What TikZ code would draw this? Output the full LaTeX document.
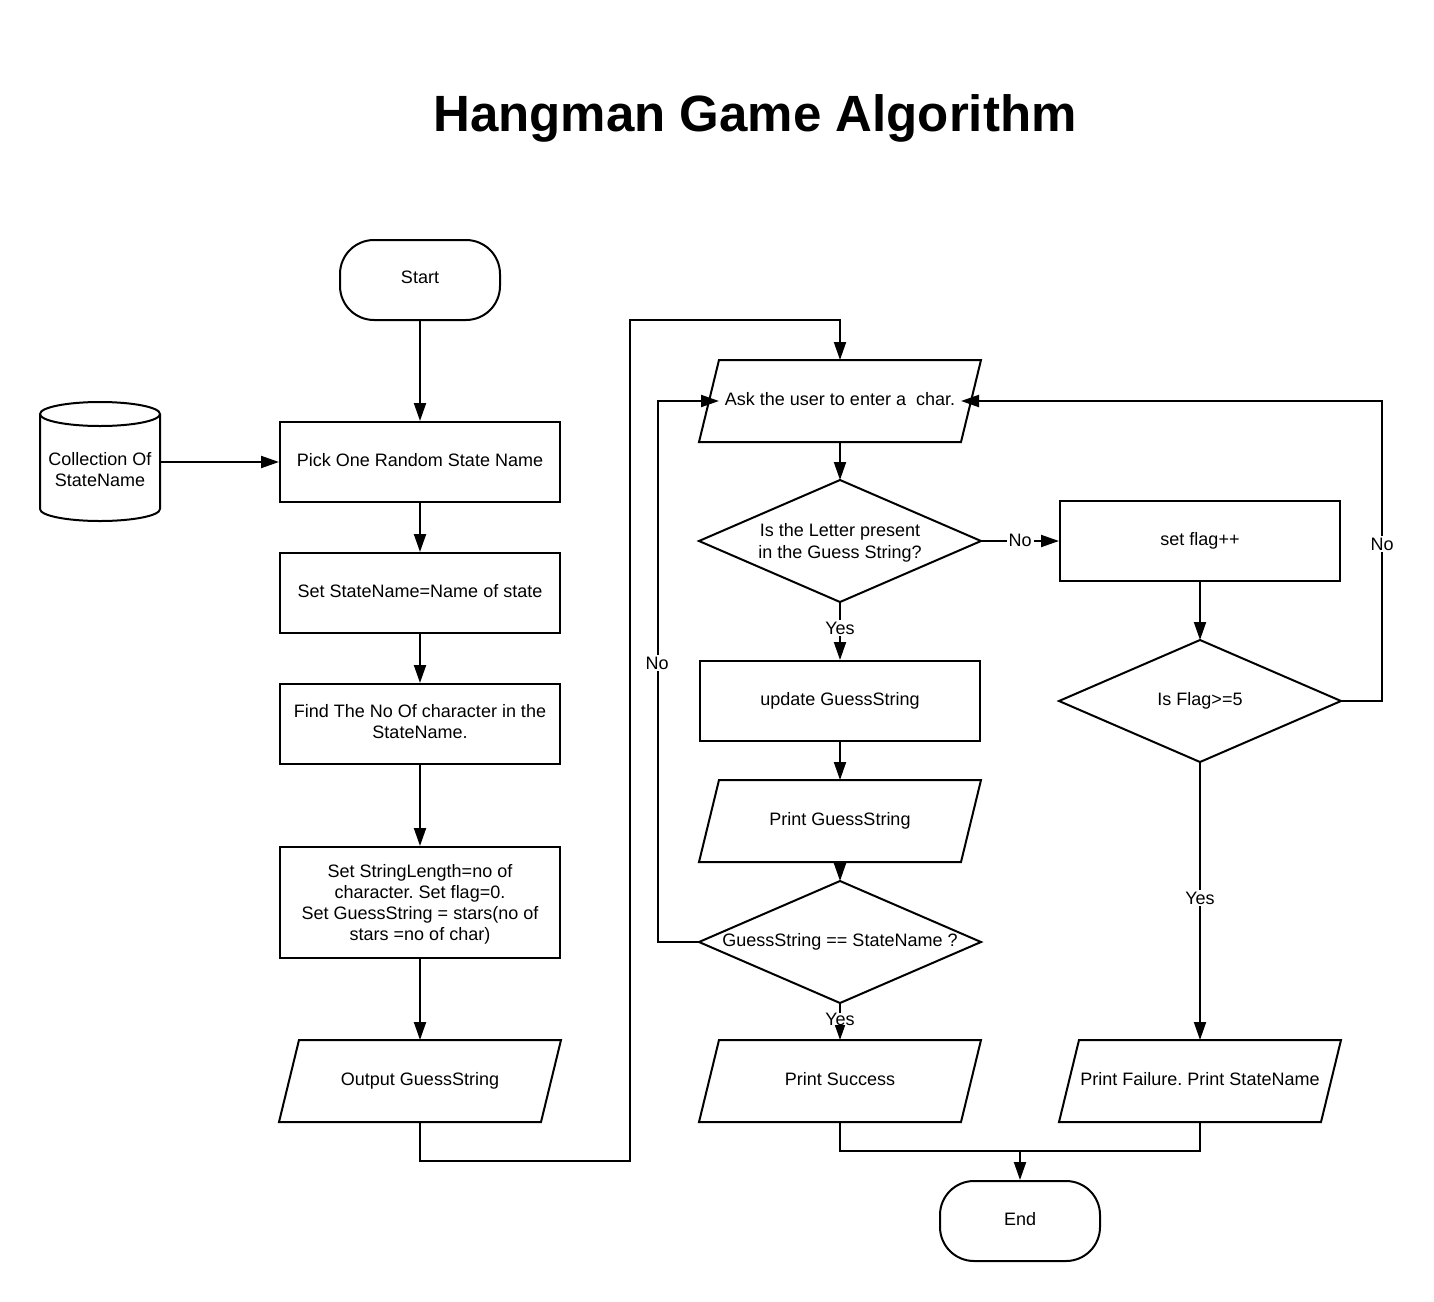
\documentclass[tikz,border=0pt]{standalone}
\usepackage{fontspec}
\setmainfont{Liberation Sans}
\usetikzlibrary{arrows.meta}
\frenchspacing
\newcommand\drawpara[1]{\draw ([xshift=10pt]#1.north west) -- (#1.north east) -- ([xshift=-10pt]#1.south east) -- (#1.south west) -- cycle;}
\newcommand\drawdiam[1]{\draw (#1.north) -- (#1.east) -- (#1.south) -- (#1.west) -- cycle;}
\begin{document}
\begin{tikzpicture}[x=0.5pt,y=-0.5pt, line width=1pt,
  >={Triangle[length=9pt,width=6pt]},
  every node/.style={font=\fontsize{9}{10.6}\selectfont, align=center, text depth=0.25em},
  box/.style={draw, minimum width=140pt, minimum height=40pt, inner sep=0pt},
  term/.style={draw, rounded corners=17pt, minimum width=80pt, minimum height=40pt, inner sep=0pt},
  slot/.style={minimum width=140pt, minimum height=40pt, inner sep=0pt},
  dslot/.style={minimum width=140pt, minimum height=60pt, inner sep=0pt},
  lbl/.style={fill=white, inner sep=1pt, text depth=0pt},
  flow/.style={->}]
\useasboundingbox (0,0) rectangle (1434,1301);

\node[anchor=base, font=\bfseries\fontsize{25.5}{30}\selectfont, text depth=0pt] (title) at (755,131) {Hangman Game Algorithm};

% left column
\node[term] (start) at (420,280) {Start};
\node[box] (pick) at (420,462) {Pick One Random State Name};
\node[box] (setname) at (420,593) {Set StateName=Name of state};
\node[box] (find) at (420,724) {Find The No Of character in the\\StateName.};
\node[box, minimum height=55.5pt, text depth=0pt] (setlen) at (420,902.5) {Set StringLength=no of\\character. Set flag=0.\\Set GuessString = stars(no of\\stars =no of char)};
\node[slot] (out) at (420,1081) {Output GuessString};
\drawpara{out}

% database
\node[minimum width=60pt, minimum height=60pt, inner sep=0pt] (db) at (100,462) {};
\draw (40,414) -- (40,509) arc[start angle=180, end angle=0, x radius=60, y radius=12] -- (160,414);
\draw (100,414) ellipse[x radius=60, y radius=12];
\node (dbtext) at (100,472) {Collection Of\\StateName};

% middle column
\node[slot] (ask) at (840,401) {Ask the user to enter a\ \ char.};
\drawpara{ask}
\node[dslot, text depth=0pt] (d1) at (840,541) {Is the Letter present\\in the Guess String?};
\drawdiam{d1}
\node[box] (upd) at (840,701) {update GuessString};
\node[slot] (prt) at (840,821) {Print GuessString};
\drawpara{prt}
\node[dslot] (d2) at (840,942) {GuessString == StateName ?};
\drawdiam{d2}
\node[slot] (succ) at (840,1081) {Print Success};
\drawpara{succ}

% right column
\node[box] (flag) at (1200,541) {set flag++};
\node[dslot] (d3) at (1200,701) {Is Flag>=5};
\drawdiam{d3}
\node[slot] (fail) at (1200,1081) {Print Failure. Print StateName};
\drawpara{fail}

\node[term] (end) at (1020,1221) {End};

% connectors
\draw[flow] (start) -- (pick);
\draw[flow] (db.east) -- (pick.west);
\draw[flow] (pick) -- (setname);
\draw[flow] (setname) -- (find);
\draw[flow] (find) -- (setlen);
\draw[flow] (setlen) -- (out);
\coordinate (c1) at (630,1161);
\coordinate (c2) at (630,320);
\draw[flow] (out.south) |- (c1) -- (c2) -| (ask.north);
\draw[flow] (ask) -- (d1);
\draw[flow] (d1.east) -- (flag.west);
\node[lbl] (no1) at (1020,540) {No};
\draw[flow] (d1.south) -- (upd.north);
\node[lbl] (yes1) at (840,628) {Yes};
\draw[flow] (upd) -- (prt);
\draw[flow] (prt) -- (d2);
\coordinate (c3) at (658,942);
\draw[flow] (d2.west) -- (c3) |- ([xshift=10pt]ask.west);
\node[lbl] (no2) at (657,663) {No};
\draw[flow] (d2.south) -- (succ.north);
\node[lbl, inner ysep=0pt] (yes2) at (840,1019) {Yes};
\draw[flow] (flag) -- (d3);
\coordinate (c4) at (1382,701);
\draw[flow] (d3.east) -- (c4) |- ([xshift=-10pt]ask.east);
\node[lbl] (no3) at (1382,544) {No};
\draw[flow] (d3.south) -- (fail.north);
\node[lbl] (yes3) at (1200,898) {Yes};
\coordinate (m) at (1020,1151);
\draw (succ.south) |- (m) -| (fail.south);
\draw[flow] (m) -- (end.north);
\end{tikzpicture}
\end{document}
